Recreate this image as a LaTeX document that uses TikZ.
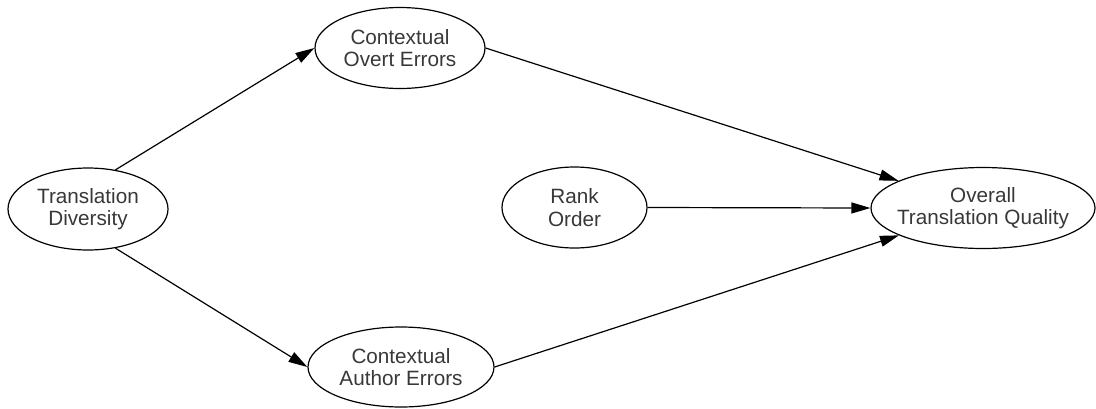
\documentclass[tikz,border=0pt]{standalone}
\usepackage{fontspec}
\setmainfont{Liberation Sans}
\usetikzlibrary{shapes.geometric,arrows.meta}
\begin{document}
\begin{tikzpicture}[x=1pt,y=-1pt,
  construct/.style={ellipse,draw=black,line width=1.2pt,inner xsep=-10pt,inner ysep=0pt,
    align=center,text=black!78,font=\fontsize{20.7}{22.5}\selectfont},
  path/.style={draw=black,line width=1.2pt,-{Triangle[length=19pt,width=11pt]}}]
  \useasboundingbox (0,0) rectangle (1096,408);
  \node[construct,minimum width=160pt,minimum height=82pt] (td) at (88,209) {Translation\\Diversity};
  \node[construct,minimum width=170pt,minimum height=81pt] (overt) at (400,48) {Contextual\\Overt Errors};
  \node[construct,minimum width=186pt,minimum height=80pt] (author) at (401,367) {Contextual\\Author Errors};
  \node[construct,minimum width=145pt,minimum height=81pt] (rank) at (574.5,207.5) {Rank\\Order};
  \node[construct,minimum width=224pt,minimum height=81pt] (overall) at (983,208) {Overall\\Translation Quality};
  \draw[path] (td.55) -- (overt.west);
  \draw[path] (td.-55) -- (author.west);
  \draw[path] (overt.east) -- (overall);
  \draw[path] (rank.east) -- (overall.west);
  \draw[path] (author.east) -- (overall);
\end{tikzpicture}
\end{document}
